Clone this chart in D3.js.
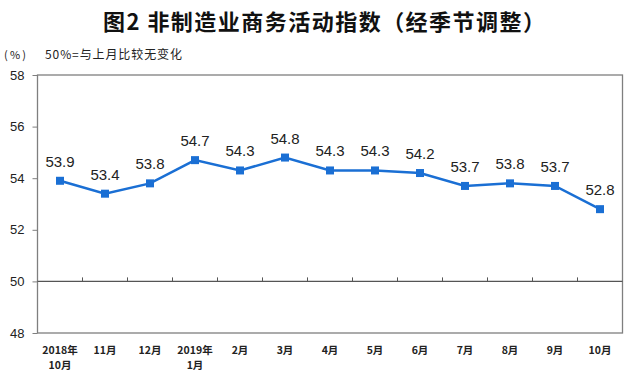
<!DOCTYPE html>
<html lang="zh">
<head>
<meta charset="UTF-8">
<title>非制造业商务活动指数</title>
<script src="https://cdn.jsdelivr.net/npm/d3@7"></script>
<style>
    body { margin: 0; background: #fff; }
    text { font-family: Arial, "Liberation Sans", sans-serif; }
    .cjk { font-family: "Noto Sans CJK SC", sans-serif; }
</style>
</head>
<body>
<script>
// data
var months = ["2018年\n10月", "11月", "12月", "2019年\n1月", "2月", "3月", "4月", "5月", "6月", "7月", "8月", "9月", "10月"];
var values = [53.9, 53.4, 53.8, 54.7, 54.3, 54.8, 54.3, 54.3, 54.2, 53.7, 53.8, 53.7, 52.8];
var yTicks = [48, 50, 52, 54, 56, 58];

const width = 628, height = 373;
const mLeft = 37.5, mRight = 622.5, mTop = 75, mBottom = 333;

var svg = d3.select("body").append("svg")
    .attr("width", width)
    .attr("height", height);

var x = d3.scaleBand().domain(months).range([mLeft, mRight]);
var y = d3.scaleLinear().domain([48, 58]).range([mBottom, mTop]);

// title
svg.append("text")
    .attr("class", "cjk")
    .attr("x", 103).attr("y", 30)
    .attr("textLength", 442).attr("lengthAdjust", "spacing")
    .style("font-size", "22px").style("font-weight", "bold").style("fill", "#111")
    .text("图2 非制造业商务活动指数（经季节调整）");

svg.append("text")
    .attr("class", "cjk")
    .attr("x", 4).attr("y", 59)
    .attr("textLength", 22)
    .style("font-size", "11px").style("fill", "#222")
    .text("(%)");

svg.append("text")
    .attr("class", "cjk")
    .attr("x", 45).attr("y", 59)
    .attr("textLength", 137).attr("lengthAdjust", "spacing")
    .style("font-size", "12px").style("fill", "#222")
    .text("50%=与上月比较无变化");

// frame
svg.append("rect")
    .attr("x", mLeft).attr("y", mTop)
    .attr("width", mRight - mLeft).attr("height", mBottom - mTop)
    .attr("fill", "none").attr("stroke", "#7f7f7f").attr("stroke-width", 1.3);

// y axis
var yAxis = svg.append("g")
    .attr("transform", "translate(" + mLeft + ",0)")
    .call(d3.axisLeft(y).tickValues(yTicks).tickSize(5).tickPadding(8));
yAxis.select(".domain").remove();
yAxis.selectAll("line").attr("stroke", "#7f7f7f");
yAxis.selectAll("text").style("font-size", "13px").style("fill", "#222")
    .style("font-family", "Arial, sans-serif");

// 50 line with category ticks
var y50 = y(50);
svg.append("line")
    .attr("x1", mLeft).attr("x2", mRight)
    .attr("y1", y50).attr("y2", y50)
    .attr("stroke", "#555").attr("stroke-width", 1.3);

svg.selectAll(".cat-tick")
    .data(months.slice(1))
    .enter().append("line")
    .attr("x1", d => x(d)).attr("x2", d => x(d))
    .attr("y1", y50).attr("y2", y50 - 4)
    .attr("stroke", "#555");

// x labels
var xl = svg.selectAll(".xlab")
    .data(months)
    .enter().append("text")
    .attr("class", "cjk")
    .attr("text-anchor", "middle")
    .style("font-size", "10.5px").style("font-weight", "bold").style("fill", "#222");
xl.each(function(d) {
    var lines = d.split("\n");
    var t = d3.select(this);
    lines.forEach(function(s, i) {
        t.append("tspan")
            .attr("x", x(d) + x.bandwidth() / 2)
            .attr("y", 354 + i * 15)
            .text(s);
    });
});

// line
var cx = (d, i) => x(months[i]) + x.bandwidth() / 2;
var line = d3.line().x(cx).y(d => y(d));
svg.append("path")
    .datum(values)
    .attr("d", line)
    .attr("fill", "none")
    .attr("stroke", "#1a6fd4")
    .attr("stroke-width", 2.5);

svg.selectAll(".pt")
    .data(values)
    .enter().append("rect")
    .attr("x", (d, i) => cx(d, i) - 4)
    .attr("y", d => y(d) - 4)
    .attr("width", 8).attr("height", 8)
    .attr("fill", "#1a6fd4");

svg.selectAll(".lab")
    .data(values)
    .enter().append("text")
    .attr("x", cx)
    .attr("y", d => y(d) - 14)
    .attr("text-anchor", "middle")
    .style("font-size", "15px").style("fill", "#222")
    .text(d => d.toFixed(1));
</script>
</body>
</html>
